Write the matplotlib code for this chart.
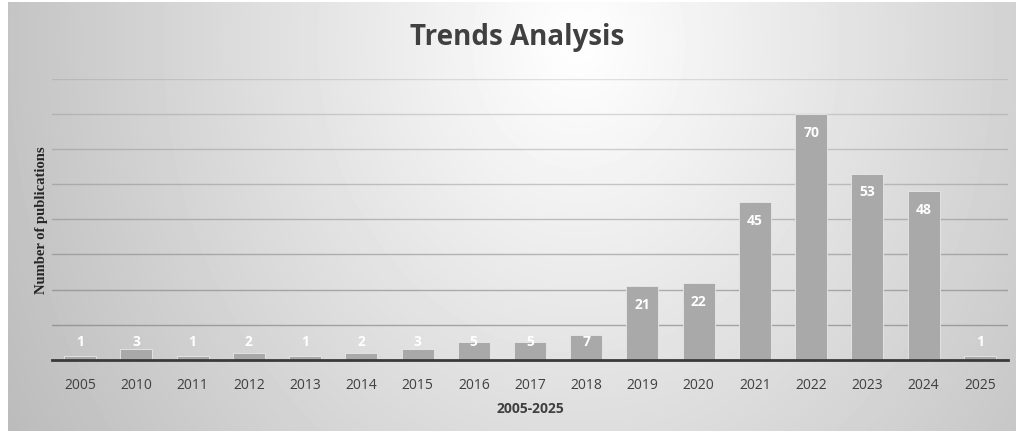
import numpy as np
import matplotlib
matplotlib.use("Agg")
import matplotlib.pyplot as plt

# DATA
years = ["2005", "2010", "2011", "2012", "2013", "2014", "2015", "2016", "2017",
         "2018", "2019", "2020", "2021", "2022", "2023", "2024", "2025"]
counts = [1, 3, 1, 2, 1, 2, 3, 5, 5, 7, 21, 22, 45, 70, 53, 48, 1]
title = "Trends Analysis"
x_title = "2005-2025"
y_title = "Number of publications"

W, H = 1016, 435
fig = plt.figure(figsize=(W / 100, H / 100), dpi=100)
fig.patch.set_facecolor("white")

# gradient background (radial, bright at top centre)
bg = fig.add_axes([8 / W, 3 / H, (W - 8) / W, (H - 6) / H], zorder=-5)
yy, xx = np.mgrid[0:H - 6, 0:W - 8]
d = np.sqrt(((xx - 570) / 420.0) ** 2 + ((yy - 40) / 500.0) ** 2)
shade = np.clip(1.0 - 0.17 * d, 0, 1)
bg.imshow(shade, cmap="gray", vmin=0, vmax=1, aspect="auto",
          interpolation="bilinear")
bg.set_axis_off()

# SETUP main axes
ax = fig.add_axes([52 / W, 1 - 361 / H, (1008 - 52) / W, (361 - 79.5) / H])
ax.set_facecolor("none")
x = np.arange(len(years))
ax.bar(x, counts, width=0.57, color="#a9a9a9", edgecolor="#e8e8e8",
       linewidth=0.6, zorder=3)

ax.set_xlim(-0.5, len(years) - 0.5)
ax.set_ylim(0, 80)
# gridlines: fainter towards the top, like the original
for g in range(10, 81, 10):
    ax.axhline(g, color="#707070", lw=1.0, alpha=0.6 - 0.4 * g / 80, zorder=0)
ax.set_yticks([])
ax.tick_params(axis="x", bottom=False, pad=9)
ax.set_xticks(x)
ax.set_xticklabels(years, fontsize=10, color="#404040", family="Open Sans")
for s in ["top", "right", "left"]:
    ax.spines[s].set_visible(False)
ax.spines["bottom"].set_color("#3a3a3a")
ax.spines["bottom"].set_linewidth(2)
ax.spines["bottom"].set_zorder(4)

# value labels inside end
for xi, v in zip(x, counts):
    ax.text(xi, max(v - 5.1, 5.4), str(v), ha="center", va="center",
            color="white", fontsize=10, fontweight="bold",
            family="Open Sans", zorder=5)

ax.set_xlabel(x_title, fontsize=10, fontweight="bold", color="#404040",
              family="Open Sans", labelpad=6)
fig.text(42 / W, 1 - 220 / H, y_title, rotation=90, ha="center", va="center",
         fontsize=10.5, fontweight="bold", color="#262626",
         family="Liberation Serif")
fig.text(517 / W, 1 - 38 / H, title, ha="center", va="center",
         fontsize=20, fontweight="bold", color="#404040", family="Open Sans")

fig.savefig("out.png", dpi=100, facecolor=fig.get_facecolor())
